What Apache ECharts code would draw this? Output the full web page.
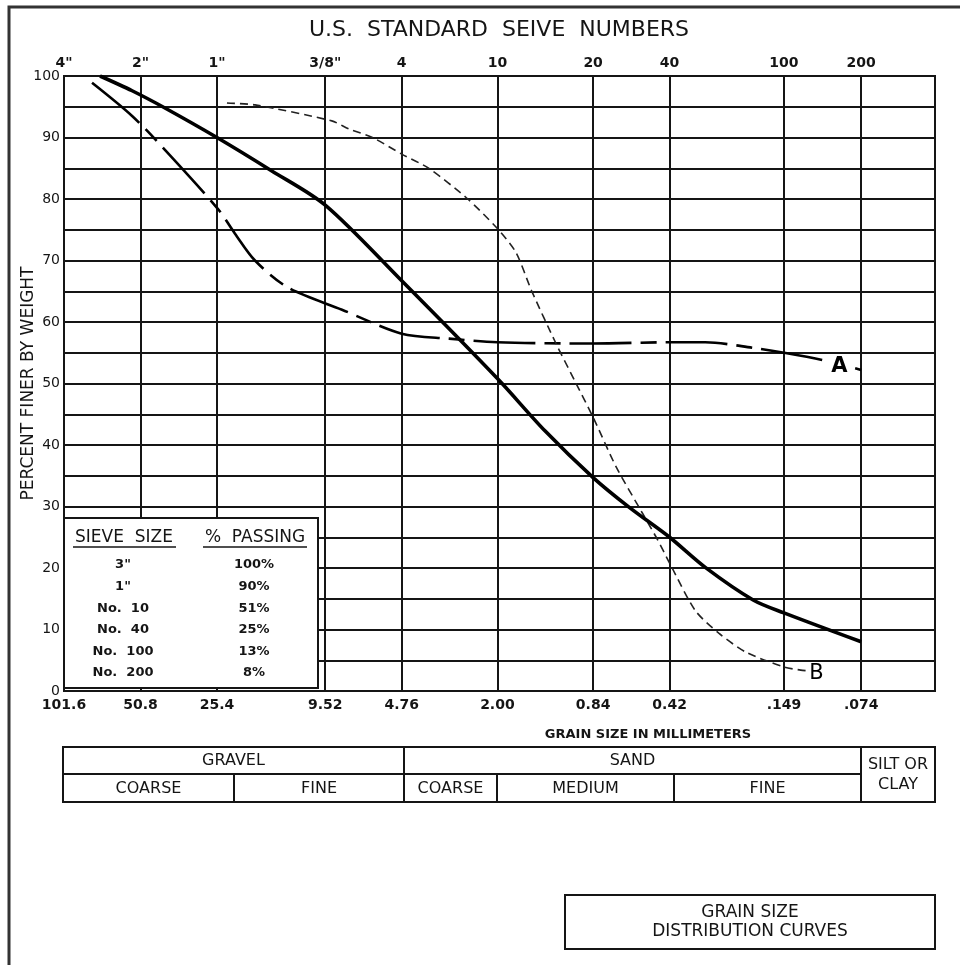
<!DOCTYPE html>
<html><head><meta charset="utf-8">
<script src="https://cdn.jsdelivr.net/npm/echarts@6/dist/echarts.min.js"></script>
<style>html,body{margin:0;padding:0;background:#fff}#c{width:960px;height:965px}</style>
</head><body><div id="c"></div>
<script>
// ---------- data ----------
const tickMm = [101.6, 50.8, 25.4, 9.52, 4.76, 2.00, 0.84, 0.42, 0.149, 0.074];
const mmLabels = ['101.6', '50.8', '25.4', '9.52', '4.76', '2.00', '0.84', '0.42', '.149', '.074'];
const sieveLabels = ['4"', '2"', '1"', '3/8"', '4', '10', '20', '40', '100', '200'];
const axisMaxMm = 101.6;
const axisMinMm = 0.0379;

const curveSolidMm  = [73.3, 54.8, 40.7, 25.4, 15.5, 9.52, 4.76, 2.00, 1.3, 0.84, 0.607, 0.42, 0.304, 0.197, 0.149, 0.074];
const curveSolidPct = [100, 97.6, 94.8, 90, 84.6, 79, 66.7, 50.8, 42.3, 34.7, 29.9, 25, 20.1, 14.8, 12.7, 8];

const curveAMm  = [78.8, 54.8, 40.7, 25.2, 21.6, 18.0, 13.35, 8.18, 4.76, 3.1, 2.00, 0.84, 0.42, 0.304, 0.197, 0.149, 0.102, 0.074];
const curveAPct = [98.9, 93.5, 88, 78.4, 74.4, 70, 65.6, 62, 58.1, 57.3, 56.7, 56.5, 56.7, 56.7, 55.8, 55, 53.7, 52.2];

const curveBMm  = [23.2, 18.0, 8.97, 7.69, 6.21, 4.76, 3.73, 2.65, 2.00, 1.69, 1.468, 1.176, 0.994, 0.84, 0.681, 0.537, 0.467, 0.42, 0.333, 0.269, 0.21, 0.149, 0.128, 0.122];
const curveBPct = [95.6, 95.3, 92.7, 91.4, 90, 87.3, 85, 80.2, 75.2, 71.3, 65.1, 56.5, 50.5, 44.5, 36.4, 28.9, 24.5, 20.8, 13.1, 9.4, 6.3, 3.9, 3.4, 3.3];

const curveTagText = ['A', 'B'];
const curveTagMm   = [0.0902, 0.111];
const curveTagPct  = [52.8, 2.9];

const sieveRowNames   = ['3"', '1"', 'No.  10', 'No.  40', 'No.  100', 'No.  200'];
const sieveRowPassing = [100, 90, 51, 25, 13, 8];

const classTopRow    = ['GRAVEL', 'SAND'];
const classBottomRow = ['COARSE', 'FINE', 'COARSE', 'MEDIUM', 'FINE'];
const classFines     = ['SILT OR', 'CLAY'];

// ---------- layout ----------
const FONT = 'DejaVu Sans';
const INK = '#151515';
const L = Math.log10;
const tickVals = tickMm.map(L);
function labeler(arr) {
  return function (v) {
    const i = tickVals.findIndex(t => Math.abs(t - v) < 1e-6);
    return i >= 0 ? arr[i] : '';
  };
}
function toXY(mm, pct) { return mm.map((m, i) => [L(m), pct[i]]); }

function txt(x, y, text, size, weight, z) {
  return { type: 'text', x: x, y: y, z: z || 100,
    style: { text: text, fill: INK, fontFamily: FONT, fontSize: size, fontWeight: weight || 'normal',
      align: 'center', verticalAlign: 'middle', textAlign: 'center', textVerticalAlign: 'middle' } };
}
function ln(x1, y1, x2, y2, w, z) {
  return { type: 'line', z: z || 100, shape: { x1: x1, y1: y1, x2: x2, y2: y2 },
    style: { stroke: INK, lineWidth: w || 2 } };
}

const graphics = [];
graphics.push({ type: 'polyline', z: 100, shape: { points: [[9, 965], [9, 7], [960, 7]] },
  style: { stroke: '#333', lineWidth: 3, fill: null } });
graphics.push(txt(499, 30, 'U.S.  STANDARD  SEIVE  NUMBERS', 22, 'normal'));
graphics.push(txt(648, 735, 'GRAIN SIZE IN MILLIMETERS', 13, 'bold'));

// sieve table inside plot
graphics.push({ type: 'rect', z: 90, shape: { x: 64, y: 518, width: 254, height: 170 },
  style: { fill: '#fff', stroke: INK, lineWidth: 2 } });
graphics.push(txt(124, 538, 'SIEVE  SIZE', 17, 'normal'));
graphics.push(txt(255, 538, '%  PASSING', 17, 'normal'));
graphics.push(ln(73, 547, 176, 547, 1.6));
graphics.push(ln(203, 547, 307, 547, 1.6));
sieveRowNames.forEach((n, i) => {
  const y = 565 + i * 21.6;
  graphics.push(txt(123, y, n, 13, 'bold'));
  graphics.push(txt(254, y, sieveRowPassing[i] + '%', 13, 'bold'));
});

// classification table
const cx = [63, 234, 404, 497, 674, 861, 935];
const cy = [747, 774, 802];
graphics.push({ type: 'rect', z: 100, shape: { x: cx[0], y: cy[0], width: cx[6] - cx[0], height: cy[2] - cy[0] },
  style: { fill: null, stroke: INK, lineWidth: 2 } });
graphics.push(ln(cx[0], cy[1], cx[5], cy[1]));
graphics.push(ln(cx[2], cy[0], cx[2], cy[2]));
graphics.push(ln(cx[5], cy[0], cx[5], cy[2]));
graphics.push(ln(cx[1], cy[1], cx[1], cy[2]));
graphics.push(ln(cx[3], cy[1], cx[3], cy[2]));
graphics.push(ln(cx[4], cy[1], cx[4], cy[2]));
graphics.push(txt((cx[0] + cx[2]) / 2, 761, classTopRow[0], 16));
graphics.push(txt((cx[2] + cx[5]) / 2, 761, classTopRow[1], 16));
for (let i = 0; i < 5; i++) {
  graphics.push(txt((cx[i] + cx[i + 1]) / 2, 789, classBottomRow[i], 16));
}
graphics.push(txt(898, 765, classFines[0], 16));
graphics.push(txt(898, 785, classFines[1], 16));

// title box
graphics.push({ type: 'rect', z: 100, shape: { x: 565, y: 895, width: 370, height: 54 },
  style: { fill: null, stroke: INK, lineWidth: 2 } });
graphics.push(txt(750, 913, 'GRAIN SIZE', 17));
graphics.push(txt(750, 932, 'DISTRIBUTION CURVES', 17));

const chart = echarts.init(document.getElementById('c'), null, { renderer: 'canvas' });
const option = {
  animation: false,
  backgroundColor: '#fff',
  textStyle: { fontFamily: FONT },
  grid: { left: 64, right: 25, top: 76, bottom: 274, show: true, borderColor: INK, borderWidth: 2, backgroundColor: '#fff' },
  xAxis: [
    { type: 'value', inverse: true, min: L(axisMinMm), max: L(axisMaxMm), position: 'bottom',
      axisLine: { show: false }, axisTick: { show: false, customValues: tickVals },
      axisLabel: { customValues: tickVals, formatter: labeler(mmLabels), margin: 7,
        fontSize: 14, fontWeight: 'bold', color: INK, fontFamily: FONT },
      splitLine: { show: true, lineStyle: { color: INK, width: 2 } } },
    { type: 'value', inverse: true, min: L(axisMinMm), max: L(axisMaxMm), position: 'top',
      axisLine: { show: false }, axisTick: { show: false, customValues: tickVals },
      axisLabel: { customValues: tickVals, formatter: labeler(sieveLabels), margin: 6,
        fontSize: 14, fontWeight: 'bold', color: INK, fontFamily: FONT },
      splitLine: { show: false } }
  ],
  yAxis: { type: 'value', min: 0, max: 100, interval: 5,
    name: 'PERCENT FINER BY WEIGHT', nameLocation: 'middle', nameGap: 27, nameRotate: 90,
    nameMoveOverlap: false,
    nameTextStyle: { fontSize: 17, color: INK, fontFamily: FONT },
    axisLine: { show: false }, axisTick: { show: false },
    axisLabel: { formatter: v => (v % 10 === 0 ? String(v) : ''), margin: 4, fontSize: 14, color: INK, fontFamily: FONT },
    splitLine: { show: true, lineStyle: { color: INK, width: 2 } } },
  series: [
    { name: 'Sample', type: 'line', data: toXY(curveSolidMm, curveSolidPct), smooth: 0.3, showSymbol: false,
      lineStyle: { color: '#000', width: 3.6 }, z: 5 },
    { name: 'A', type: 'line', data: toXY(curveAMm, curveAPct), smooth: 0.3, showSymbol: false,
      lineStyle: { color: '#000', width: 2.6, type: [62, 9, 16, 9] }, z: 4 },
    { name: 'B', type: 'line', data: toXY(curveBMm, curveBPct), smooth: 0.25, showSymbol: false,
      lineStyle: { color: '#222', width: 1.6, type: [8, 5] }, z: 4 },
    { name: 'tags', type: 'scatter', symbolSize: 0, z: 6, itemStyle: { opacity: 1 },
      data: curveTagText.map((t, i) => ({ value: [L(curveTagMm[i]), curveTagPct[i]], name: t,
        label: { fontWeight: i === 0 ? 'bold' : 'normal' } })),
      label: { show: true, position: 'inside', formatter: p => p.name, fontSize: 21, color: '#000',
        opacity: 1, textBorderWidth: 0, fontFamily: FONT, backgroundColor: '#fff', padding: [0, 2] } }
  ],
  graphic: graphics
};
chart.setOption(option);
</script>
</body></html>
